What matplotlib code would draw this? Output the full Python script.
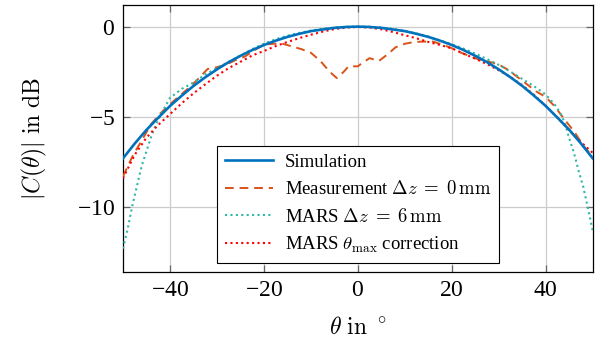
import matplotlib
matplotlib.use('Agg')
import matplotlib.pyplot as plt

# data (theta in degrees, |C| in dB)
sim_theta = [-50, -47.5, -45, -42.5, -40, -37.5, -35, -32.5, -30, -27.5, -25, -22.5, -20, -17.5, -15, -12.5, -10, -7.5, -5, -2.5, 0,
             2.5, 5, 7.5, 10, 12.5, 15, 17.5, 20, 22.5, 25, 27.5, 30, 32.5, 35, 37.5, 40, 42.5, 45, 47.5, 50]
sim_db = [-7.30, -6.48, -5.72, -5.05, -4.40, -3.83, -3.29, -2.81, -2.37, -1.97, -1.62, -1.30, -1.02, -0.78, -0.57, -0.40, -0.25, -0.16, -0.07, -0.02, 0.0,
          -0.02, -0.07, -0.16, -0.25, -0.40, -0.57, -0.78, -1.02, -1.30, -1.62, -1.97, -2.37, -2.81, -3.29, -3.83, -4.40, -5.05, -5.72, -6.48, -7.30]

meas_theta = [-50, -48, -46, -44, -42, -40, -38, -36, -34, -32, -30, -28, -26, -24, -22, -20, -18, -16, -14, -12, -10, -8, -6, -4.5, -3, -2, 0,
              1, 2.5, 4.5, 6.5, 8, 10, 12, 14, 16, 18, 20, 22, 24, 26, 28, 30, 32, 34, 36, 38, 40, 42, 44, 46, 48, 50]
meas_db = [-8.3, -7.2, -6.3, -5.4, -4.8, -4.3, -3.85, -3.4, -2.9, -2.35, -2.25, -2.1, -1.85, -1.65, -1.3, -1.0, -0.95, -0.95, -1.1, -1.25, -1.45, -1.9, -2.5, -2.85, -2.5, -2.2, -2.2,
           -2.0, -1.75, -1.9, -1.5, -1.15, -0.95, -0.85, -0.83, -0.83, -1.0, -1.2, -1.45, -1.65, -1.85, -1.95, -2.1, -2.4, -2.8, -3.2, -3.6, -3.9, -4.45, -5.15, -5.8, -6.6, -7.2]

mars6_theta = [-50, -49, -48, -47, -46, -45, -44, -43, -42, -40, -37.5, -35, -32.5, -30, -27.5, -25, -22.5, -20, -17.5, -15, -12.5, -10, -7.5, -5, -2.5, 0,
               2.5, 5, 7.5, 10, 12.5, 15, 17.5, 20, 22.5, 25, 27.5, 30, 32.5, 35, 37.5, 40, 42, 43, 44, 45, 46, 47, 48, 49, 50]
mars6_db = [-12.3, -11.2, -9.9, -8.8, -7.7, -6.9, -6.1, -5.45, -4.9, -3.95, -3.45, -3.1, -2.65, -2.3, -1.95, -1.6, -1.25, -0.95, -0.7, -0.5, -0.35, -0.22, -0.12, -0.05, -0.01, 0.0,
            -0.01, -0.05, -0.13, -0.24, -0.38, -0.55, -0.76, -0.98, -1.22, -1.5, -1.8, -2.12, -2.5, -2.9, -3.3, -3.77, -4.35, -4.75, -5.3, -6.2, -7.0, -8.0, -8.9, -10.1, -11.3]

marsc_theta = sim_theta
marsc_db = [-8.4, -7.1, -6.15, -5.45, -4.85, -4.25, -3.7, -3.2, -2.72, -2.3, -1.95, -1.6, -1.35, -1.08, -0.85, -0.64, -0.45, -0.28, -0.14, -0.05, -0.02,
            -0.05, -0.15, -0.3, -0.48, -0.65, -0.85, -1.02, -1.2, -1.5, -1.78, -2.08, -2.42, -2.8, -3.25, -3.78, -4.4, -5.05, -5.75, -6.4, -7.0]

plt.rcParams['font.family'] = ['Liberation Serif', 'DejaVu Serif']
plt.rcParams['mathtext.fontset'] = 'cm'
plt.rcParams['axes.formatter.use_mathtext'] = True

fig = plt.figure(figsize=(6.03, 3.45), dpi=100)
ax = fig.add_axes([0.204, 0.2116, 0.779, 0.774])

ax.plot(sim_theta, sim_db, color='#0072BD', lw=1.9, label='Simulation', zorder=4)
ax.plot(meas_theta, meas_db, color='#D95319', lw=1.4, ls=(0, (4.5, 3)), label=r'Measurement $\Delta z\;=\;0\,\mathrm{mm}$', zorder=3)
ax.plot(mars6_theta, mars6_db, color='#2FB8A4', lw=1.5, ls=(0, (1, 1.6)), label=r'MARS $\Delta z\;=\;6\,\mathrm{mm}$', zorder=3)
ax.plot(marsc_theta, marsc_db, color='#FF0000', lw=1.5, ls=(0, (1, 1.6)), label=r'MARS $\theta_\mathrm{max}$ correction', zorder=3)

ax.set_xlim(-50, 50)
ax.set_ylim(-13.6, 1.2)
ax.set_xticks([-40, -20, 0, 20, 40])
ax.set_yticks([-10, -5, 0])
ax.grid(True, color='#cccccc', lw=0.9)
ax.tick_params(direction='in', length=5, width=0.9, color='0.4', top=True, right=True, labelsize=17, pad=6)
for s in ax.spines.values():
    s.set_linewidth(0.9)

ax.set_xlabel(r'$\theta\ \mathrm{in}\ ^\circ$', fontsize=17, labelpad=11)
ax.set_ylabel(r'$|C(\theta)|\ \mathrm{in\ dB}$', fontsize=17, labelpad=20)

leg = ax.legend(loc='lower center', bbox_to_anchor=(0.5, 0.0), fontsize=13.5, fancybox=False,
                edgecolor='black', framealpha=1, handlelength=2.6, borderpad=0.4, labelspacing=0.5, handletextpad=0.6)
leg.get_frame().set_linewidth(0.8)

plt.savefig('out.png', dpi=100)
